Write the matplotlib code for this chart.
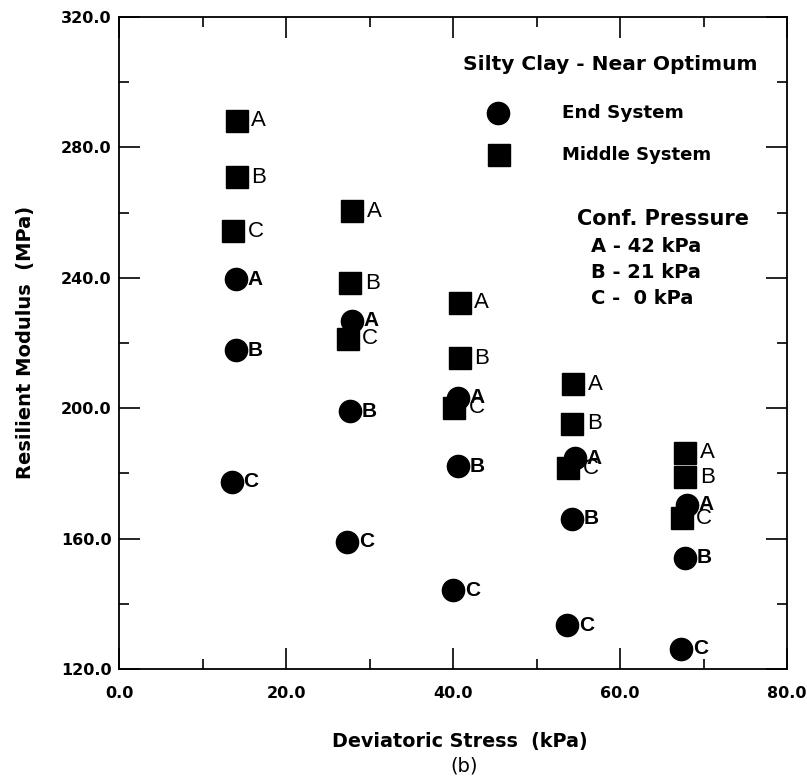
import matplotlib
matplotlib.use("Agg")
import matplotlib.pyplot as plt
from matplotlib.ticker import MultipleLocator, FormatStrFormatter

plt.rcParams['font.family'] = ['Liberation Sans', 'DejaVu Sans']

# End System (circles)
end_x = [14.0, 14.0, 13.5, 27.9, 27.7, 27.3, 40.6, 40.6, 40.0, 54.6, 54.2, 53.7, 68.0, 67.8, 67.3]
end_y = [239.6, 217.8, 177.5, 226.8, 199.1, 159.1, 203.2, 182.2, 144.2, 184.7, 166.1, 133.4, 170.4, 154.2, 126.2]
end_lbl = ['A', 'B', 'C'] * 5

# Middle System (squares)
mid_x = [14.1, 14.1, 13.7, 27.9, 27.7, 27.4, 40.8, 40.8, 40.1, 54.4, 54.3, 53.8, 67.8, 67.8, 67.4]
mid_y = [288.1, 270.9, 254.3, 260.4, 238.3, 221.3, 232.4, 215.3, 200.1, 207.3, 195.2, 181.6, 186.3, 178.8, 166.2]
mid_lbl = ['A', 'B', 'C'] * 5

x_ticks = [0, 20, 40, 60, 80]
y_ticks = [120, 160, 200, 240, 280, 320]

W, H = 807, 784
BOLD = 'DejaVu Sans'
fig = plt.figure(figsize=(W / 100, H / 100), dpi=100)
ax = fig.add_axes([119 / W, 1 - 669 / H, (787 - 119) / W, (669 - 17) / H])

ax.plot(mid_x, mid_y, 's', color='black', ms=15.5, ls='none')
ax.plot(end_x, end_y, 'o', color='black', ms=16, ls='none')

for x, y, t in zip(mid_x, mid_y, mid_lbl):
    ax.annotate(t, (x, y), xytext=(10.5, 0), textcoords='offset points',
                ha='left', va='center', fontsize=16, fontweight='normal')
for x, y, t in zip(end_x, end_y, end_lbl):
    ax.annotate(t, (x, y), xytext=(8.5, 0), textcoords='offset points',
                ha='left', va='center', fontsize=15, fontweight='bold')

ax.set_xlim(0, 80)
ax.set_ylim(120, 320)
ax.set_xticks(x_ticks)
ax.set_yticks(y_ticks)
ax.xaxis.set_minor_locator(MultipleLocator(10))
ax.yaxis.set_minor_locator(MultipleLocator(20))
ax.xaxis.set_major_formatter(FormatStrFormatter('%.1f'))
ax.yaxis.set_major_formatter(FormatStrFormatter('%.1f'))
ax.tick_params(which='both', direction='in', top=True, right=True, width=1.2)
ax.tick_params(which='major', length=15)
ax.tick_params(which='minor', length=7.5)
ax.tick_params(axis='x', which='major', pad=12)
ax.tick_params(axis='y', which='major', pad=5.5)
for lab in ax.get_xticklabels() + ax.get_yticklabels():
    lab.set_fontfamily(BOLD)
    lab.set_fontweight('bold')
    lab.set_fontsize(11.5)
for s in ax.spines.values():
    s.set_linewidth(1.3)

def fx(px):
    return px / W

def fy(py):
    return 1 - py / H

# legend / annotations
fig.text(fx(610), fy(65), 'Silty Clay - Near Optimum', ha='center', va='center',
         fontsize=14.5, fontweight='bold', family=BOLD)
ax.plot([(498 - 119) / 668], [1 - (113 - 17) / 652], 'o', color='black', ms=16,
        transform=ax.transAxes, clip_on=False)
ax.plot([(499 - 119) / 668], [1 - (155 - 17) / 652], 's', color='black', ms=15.5,
        transform=ax.transAxes, clip_on=False)
fig.text(fx(562), fy(113), 'End System', ha='left', va='center', fontsize=13.2,
         fontweight='bold', family=BOLD)
fig.text(fx(562), fy(155), 'Middle System', ha='left', va='center', fontsize=13,
         fontweight='bold', family=BOLD)

fig.text(fx(663), fy(219), 'Conf. Pressure', ha='center', va='center', fontsize=15,
         fontweight='bold', family=BOLD)
for txt, py in [('A - 42 kPa', 247), ('B - 21 kPa', 273), ('C -  0 kPa', 299)]:
    fig.text(fx(591), fy(py), txt, ha='left', va='center', fontsize=14,
             fontweight='bold', family=BOLD)

fig.text(fx(460), fy(742), 'Deviatoric Stress  (kPa)', ha='center', va='center',
         fontsize=13.8, fontweight='bold', family=BOLD)
fig.text(fx(464), fy(766), '(b)', ha='center', va='center', fontsize=14, family=BOLD)
fig.text(fx(26), fy(342), 'Resilient Modulus  (MPa)', ha='center', va='center',
         rotation=90, fontsize=14, fontweight='bold', family=BOLD)

fig.savefig('out.png', dpi=100)
